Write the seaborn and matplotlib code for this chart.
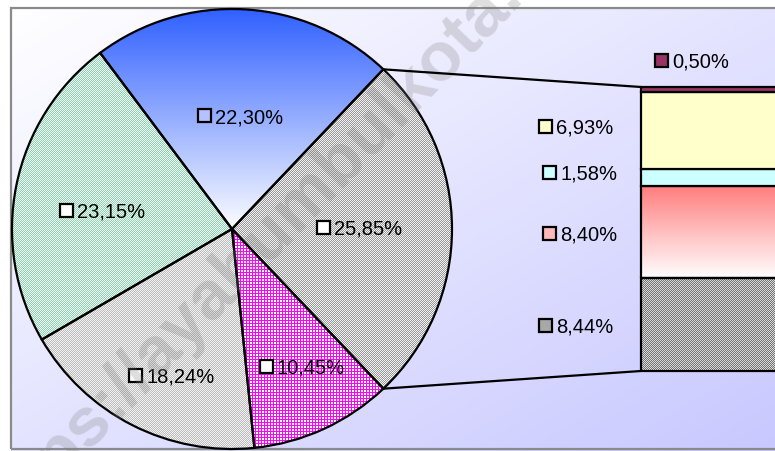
import numpy as np
import matplotlib
matplotlib.use("Agg")
import matplotlib.pyplot as plt
from matplotlib.patches import Rectangle, ConnectionPatch
import seaborn as sns

# ---------------- data ----------------
pie_values = [25.85, 22.30, 23.15, 18.24, 10.45]      # first slice is split into the bar
pie_colors = ['#C4C4C4', '#3366FF', '#C6E8D6', '#D6D6D6', '#FF71FF']
bar_values = [8.44, 8.40, 1.58, 6.93, 0.50]            # bottom -> top
bar_colors = ['#A8A8A8', '#FF8080', '#CCFFFF', '#FFFFCC', '#993366']
watermark = "https://ayahumbulkota.blogspot.com"

# ---------------- layout (pixel coords, origin top-left) ----------------
W, H = 775, 452
pie_center_px = (232, 230)
pie_radius = 220
pie_label_pos = [(317, 228), (198, 116), (60, 211), (129, 376), (260, 367)]
bar_label_pos = [(539, 326), (543, 234), (543, 173), (539, 127), (655, 61)]
pie_key_colors = ['white', '#B4C2FF', 'white', 'white', 'white']
bar_key_colors = ['#A8A8A8', '#FFB8B8', '#CCFFFF', '#FFFFCC', '#993366']


def fmt(v):
    return f"{v:.2f}".replace('.', ',') + '%'


sns.set_style('white')
plt.rcParams['font.family'] = ['Liberation Sans', 'DejaVu Sans']

fig = plt.figure(figsize=(W / 100, H / 100), dpi=100)
ax = fig.add_axes([0, 0, 1, 1])

yy, xx = np.mgrid[0:H, 0:W]


def hexrgb(h):
    h = h.lstrip('#')
    return np.array([int(h[i:i + 2], 16) for i in (0, 2, 4)]) / 255.0


def checker(c1, c2):
    m = ((xx + yy) % 2 == 0)[..., None]
    return np.where(m, hexrgb(c1), hexrgb(c2))


def grid(c1, c2, p=3):
    m = ((xx % p == 0) | (yy % p == 0))[..., None]
    return np.where(m, hexrgb(c1), hexrgb(c2))


def vgrad(c_top, c_bot, y0, y1):
    t = np.clip((yy - y0) / (y1 - y0), 0, 1)[..., None]
    return hexrgb(c_top) * (1 - t) + hexrgb(c_bot) * t


# background gradient
t = np.clip(((xx - 11) / 764.0 + (yy - 9) / 441.0) / 2.0, 0, 1)[..., None]
bg = hexrgb('#FFFFFF') * (1 - t) + hexrgb('#C8C8FF') * t
outside = ((xx < 11) | (yy < 9))[..., None]
bg = np.where(outside, 1.0, bg)
ax.imshow(bg, extent=(0, W, 0, H), origin='upper', interpolation='nearest',
          aspect='auto', zorder=0)

# ---------------- pie ----------------
total_pie = sum(pie_values)
start = -pie_values[0] / total_pie * 360 / 2
cx, cy = pie_center_px[0], H - pie_center_px[1]
wedges, _ = ax.pie(pie_values, colors=pie_colors, center=(cx, cy), radius=pie_radius,
                   startangle=start, counterclock=True, frame=True,
                   wedgeprops=dict(edgecolor='black', linewidth=1.6))

pie_fills = [
    checker('#969696', '#F4F4F4'),
    vgrad('#3060FF', '#FFFFFF', 10, 232),
    checker('#8CD2B0', '#F2FBF6'),
    checker('#BCBCBC', '#F2F2F2'),
    grid('#FF00FF', '#FFFFFF', 3),
]
for w, img in zip(wedges, pie_fills):
    w.set_facecolor('none')
    w.set_zorder(3)
    im = ax.imshow(img, extent=(0, W, 0, H), origin='upper', interpolation='nearest',
                   aspect='auto', zorder=2)
    im.set_clip_path(w)

# chart border
ax.add_patch(Rectangle((11, 2), 900, H - 11, facecolor='none', edgecolor='#8A8A8A',
                       linewidth=1.6, zorder=1, clip_on=False))

ax.set_xlim(0, W)
ax.set_ylim(0, H)
ax.set_aspect('auto')
ax.axis('off')

# ---------------- bar of pie ----------------
bar_left, bar_top, bar_bottom, bar_w = 641, 88, 372, 160
ax2 = fig.add_axes([bar_left / W, (H - bar_bottom) / H, bar_w / W, (bar_bottom - bar_top) / H])
total_bar = sum(bar_values)
bottoms = np.concatenate([[0], np.cumsum(bar_values)[:-1]])
bars = ax2.bar(0, bar_values, width=1.0, bottom=bottoms, color=bar_colors,
               edgecolor='black', linewidth=1.6, clip_on=False)
ax2.set_xlim(-0.5, 0.5)
ax2.set_ylim(0, total_bar)
ax2.axis('off')

bar_fill_imgs = {0: checker('#727272', '#DADADA'),
                 1: vgrad('#FF7878', '#FFFAFA', 184, 275)}
for i, img in bar_fill_imgs.items():
    bars[i].set_facecolor('none')
    im = ax.imshow(img, extent=(0, W, 0, H), origin='upper', interpolation='nearest',
                   aspect='auto', zorder=2)
    im.set_clip_path(bars[i])

# connector lines
w0 = wedges[0]
for ang, yb in ((w0.theta2, total_bar), (w0.theta1, 0)):
    px = w0.center[0] + w0.r * np.cos(np.radians(ang))
    py = w0.center[1] + w0.r * np.sin(np.radians(ang))
    cp = ConnectionPatch(xyA=(px, py), coordsA=ax.transData,
                         xyB=(-0.5, yb), coordsB=ax2.transData,
                         color='black', linewidth=1.6, zorder=6)
    fig.add_artist(cp)


# ---------------- labels ----------------
def label(x, ycen, text, keyc):
    s = 13
    ax.add_patch(Rectangle((x, H - ycen - s / 2), s, s, facecolor=keyc,
                           edgecolor='black', linewidth=1.6, zorder=5))
    ax.text(x + s + 4, H - ycen - 7, text, fontsize=14.5, color='black',
            ha='left', va='baseline', zorder=5)


for v, (x, y), kc in zip(pie_values, pie_label_pos, pie_key_colors):
    label(x, y, fmt(v), kc)
for v, (x, y), kc in zip(bar_values, bar_label_pos, bar_key_colors):
    label(x, y, fmt(v), kc)

# watermark
ax.text(-4, -91, watermark, rotation=46, rotation_mode='anchor', ha='left',
        va='baseline', fontsize=50, fontweight='bold', color='#808080',
        alpha=0.26, zorder=7)

fig.savefig('out.png', dpi=100)
